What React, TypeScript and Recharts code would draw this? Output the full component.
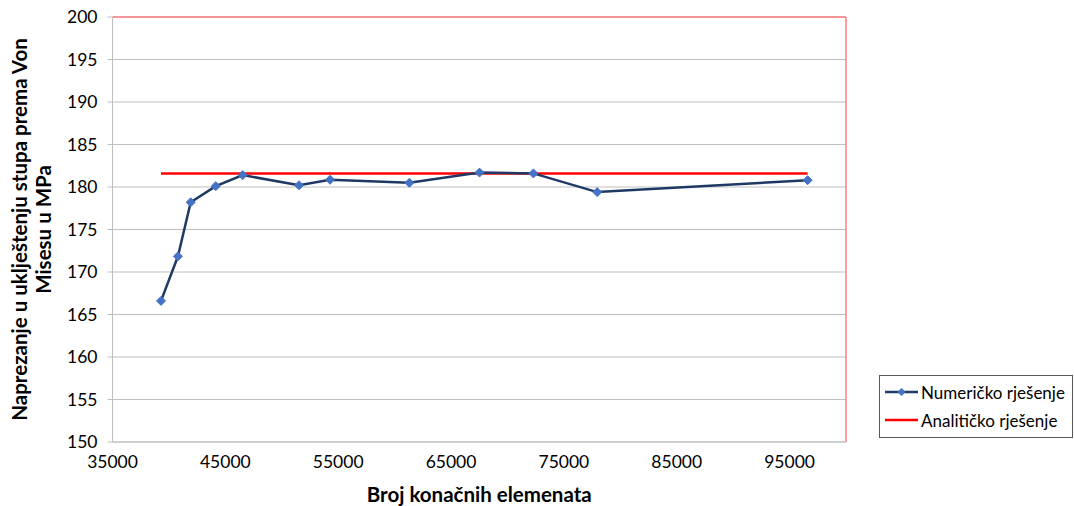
import React from "react";
import { LineChart, Line, XAxis, YAxis, CartesianGrid, ReferenceLine } from "recharts";

const elementCounts = [39300, 40800, 41930, 44150, 46540, 51530, 54280, 61310, 67520, 72300, 77950, 96600];
const numericValues = [166.6, 171.85, 178.2, 180.1, 181.4, 180.2, 180.85, 180.5, 181.7, 181.6, 179.4, 180.8];
const analyticX = [39300, 96600];
const analyticValue = 181.6;
const xTicks = [35000, 45000, 55000, 65000, 75000, 85000, 95000];
const yTicks = [150, 155, 160, 165, 170, 175, 180, 185, 190, 195, 200];
const seriesNames = ["Numeričko rješenje", "Analitičko rješenje"];
const xTitle = "Broj konačnih elemenata";
const yTitleLines = ["Naprezanje u uklještenju stupa prema Von", "Misesu u MPa"];

const numericData = elementCounts.map((x, i) => ({ x, y: numericValues[i] }));
const analyticData = analyticX.map((x) => ({ x, y: analyticValue }));

const FONT = "Lato, 'Open Sans', sans-serif";
const NAVY = "#1F3864";
const BLUE = "#4472C4";
const RED = "#FF0000";
const BORDER = "#FF7C80";

const Diamond = (props: any) => {
  const { cx, cy } = props;
  if (cx == null || cy == null) return null;
  const r = 4.5;
  return <path d={`M${cx},${cy - r}L${cx + r},${cy}L${cx},${cy + r}L${cx - r},${cy}Z`} fill={BLUE} stroke={BLUE} strokeWidth={1} />;
};

const LegendBox = () => (
  <div
    style={{
      position: "absolute",
      left: 879,
      top: 375,
      width: 194,
      height: 63,
      border: "1px solid #595959",
      background: "#fff",
      fontFamily: FONT,
      fontSize: 17,
      color: "#000",
      boxSizing: "border-box",
      paddingTop: 2,
    }}
  >
    {seriesNames.map((name, i) => (
      <div key={name} style={{ display: "flex", alignItems: "center", height: 28, paddingLeft: 5, whiteSpace: "nowrap" }}>
        <svg width={34} height={12} style={{ marginRight: 2, flexShrink: 0 }}>
          <line x1={0} y1={6} x2={33} y2={6} stroke={i === 0 ? NAVY : RED} strokeWidth={2.5} />
          {i === 0 && <path d="M16.5,2L20.5,6L16.5,10L12.5,6Z" fill={BLUE} />}
        </svg>
        <span>{name}</span>
      </div>
    ))}
  </div>
);

const YTitle = () => {
  const cy = 229.5;
  const cx = 32;
  return (
    <text
      transform={`rotate(-90, ${cx}, ${cy})`}
      x={cx}
      y={cy}
      textAnchor="middle"
      fontFamily={FONT}
      fontWeight="bold"
      fontSize={20.5}
      fill="#000"
    >
      <tspan x={cx} dy={-5}>{yTitleLines[0]}</tspan>
      <tspan x={cx} dy={24}>{yTitleLines[1]}</tspan>
    </text>
  );
};

export default function App() {
  return (
    <div style={{ position: "absolute", left: 0, top: 0, width: 1074, height: 506, background: "#fff" }}>
      <LineChart width={1074} height={506} margin={{ top: 17, right: 228, bottom: 34, left: 0 }}>
        <CartesianGrid vertical={false} stroke="#BFBFBF" strokeWidth={1} />
        <XAxis
          type="number"
          dataKey="x"
          domain={[35000, 100000]}
          ticks={xTicks}
          allowDataOverflow
          height={30}
          tickLine={false}
          tickSize={6}
          tickMargin={8}
          axisLine={{ stroke: "#BFBFBF" }}
          tick={{ fill: "#000", fontSize: 17.5, fontFamily: FONT }}
          label={{
            value: xTitle,
            position: "bottom",
            offset: 15,
            style: { fill: "#000", fontSize: 20.5, fontWeight: "bold", fontFamily: FONT },
          }}
        />
        <YAxis
          type="number"
          dataKey="y"
          domain={[150, 200]}
          ticks={yTicks}
          width={112.5}
          tickSize={5}
          tickMargin={10}
          tickLine={{ stroke: "#BFBFBF" }}
          axisLine={{ stroke: "#BFBFBF" }}
          tick={{ fill: "#000", fontSize: 17.5, fontFamily: FONT }}
          label={<YTitle />}
        />
        <ReferenceLine y={200} stroke={BORDER} strokeWidth={1.5} />
        <ReferenceLine x={100000} stroke={BORDER} strokeWidth={1.5} />
        <Line
          data={analyticData}
          dataKey="y"
          name={seriesNames[1]}
          stroke={RED}
          strokeWidth={2.5}
          dot={false}
          isAnimationActive={false}
        />
        <Line
          data={numericData}
          dataKey="y"
          name={seriesNames[0]}
          stroke={NAVY}
          strokeWidth={2.5}
          dot={<Diamond />}
          isAnimationActive={false}
        />
      </LineChart>
      <LegendBox />
    </div>
  );
}
